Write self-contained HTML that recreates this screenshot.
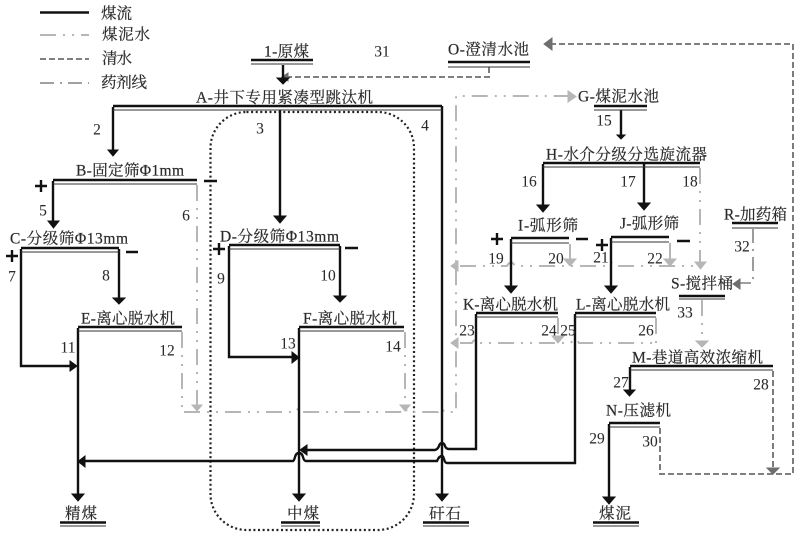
<!DOCTYPE html>
<html><head><meta charset="utf-8">
<style>
html,body{margin:0;padding:0;background:#fff}
svg{display:block;filter:blur(.35px)}
text{font-family:"Liberation Serif","Noto Serif CJK SC",serif;font-size:15.5px;fill:#2a2a2a;stroke:#2a2a2a;stroke-width:.2;dominant-baseline:central}
.n{font-size:15.5px;stroke-width:.05}
.k{fill:none;stroke:#111;stroke-width:2.4}
.t{fill:none;stroke:#333;stroke-width:1.1}
.s{fill:none;stroke:#b6b6b6;stroke-width:2;stroke-dasharray:16 7 2 7 2 7}
.w{fill:none;stroke:#6e6e6e;stroke-width:1.8;stroke-dasharray:6 3}
.d{fill:none;stroke:#929292;stroke-width:1.8;stroke-dasharray:14 6 2 6}
.ha{fill:#111;stroke:#111;stroke-width:1}.hs{fill:#b6b6b6;stroke:#b6b6b6;stroke-width:1}.hw{fill:#6e6e6e;stroke:#6e6e6e;stroke-width:1}
.p{fill:none;stroke:#111;stroke-width:2.4}
</style></head><body>
<svg width="800" height="537" viewBox="0 0 800 537" xmlns="http://www.w3.org/2000/svg">
<!-- legend -->
<path class="k" d="M40 12.5H89"/><path class="s" d="M40 35H89"/><path class="w" d="M40 59H89"/><path class="d" d="M40 83H89"/>
<text x="101" y="14" textLength="31">煤流</text><text x="102" y="35" textLength="48">煤泥水</text><text x="102" y="59" textLength="30">清水</text><text x="101" y="83" textLength="46">药剂线</text>
<!-- dotted box -->
<rect x="210.5" y="112" width="203.5" height="418" rx="36" ry="36" fill="none" stroke="#222" stroke-width="2.2" stroke-dasharray="2 2.6"/>
<!-- grey slime -->
<path class="s" d="M197 185V406"/><path class="s" d="M182 332V412H296q3-7 5-0H402q3-7 5 0H438q3-7 6 0H456V96H568"/>
<path class="s" d="M405 332V406"/>
<path class="s" d="M700 168V263"/><path class="s" d="M570 244V262"/><path class="s" d="M670 243V262"/>
<path class="s" d="M460 266H507q4-7 8 0H607q4-7 8 0H700"/>
<path class="s" d="M558 318V338"/><path class="s" d="M656 318V343"/>
<path class="s" d="M460 343H472q4-7 8 0H571q4-7 8 0H656"/>
<path class="s" d="M702 300V341"/>
<path class="hs" d="M192 405h10l-5 6zM400 405h10l-5 6zM568 91v11l8-5.500zM695 262h11l-5.500 7zM564 259h12l-6 7zM664 259h12l-6 7zM458 261v10l-7-5zM458 338v10l-7-5zM552 336h12l-6 7zM696 341h12l-6 6z"/>
<!-- clear water -->
<path class="w" d="M489 67V77H288"/><path class="w" d="M773 371V468"/><path class="w" d="M660 428V474H793V44H550"/>
<path class="hw" d="M288 73v8l-6-4zM767 468h12l-6 6zM552 38v12l-8-6z"/>
<!-- reagent -->
<path class="d" d="M753 229V283H740"/><path class="hw" d="M740 279v10l-7-5z"/>
<!-- black flows -->
<path class="k" d="M113 107V152"/><path class="k" d="M280 110V218"/>
<path class="k" d="M442 106V495"/><path class="k" d="M283 65V80"/><path class="k" d="M113 106H442"/>
<path class="k" d="M53 181V223"/><path class="k" d="M21 249V366H72"/><path class="k" d="M119 249V299"/>
<path class="k" d="M78 328V495"/><path class="k" d="M229 246V357H294"/><path class="k" d="M340 246V297"/><path class="k" d="M299 328V495"/>
<path class="k" d="M476 314V449H449q-3 0-4-3t-3-3t-3 3t-4 4H307"/>
<path class="k" d="M575 314V463H447q-2 0-3-4t-3-3t-3 3t-1 2H306q-2 0-3-4t-4-4t-4 4t-2 4H85"/>
<path class="k" d="M621 110V136"/><path class="k" d="M543 164V207"/><path class="k" d="M644 164V205"/>
<path class="k" d="M511 239V287"/><path class="k" d="M611 238V287"/><path class="k" d="M630 367V391"/><path class="k" d="M609 424V497"/>
<path class="ha" d="M108 150h10l-5 6zM277 78h12l-6 6zM274 216h12l-6 7zM48 221h11l-5.500 7zM113 298h12l-6 6zM334 296h12l-6 6zM70 361v10l7-5zM292 352v11l7-5.500zM85 456v11l-7-5.500zM307 445v10l-7-5zM72 494h12l-6 7zM293 494h12l-6 7zM436 494h12l-6 7zM617 135h8l-4 4zM537 205h12l-6 7zM638 203h12l-6 7zM505 286h12l-6 7zM605 286h12l-6 7zM624 390h11l-5.500 6zM603 497h12l-6 7z"/>
<!-- double bars -->
<g class="p">
<path d="M251 60H313M448 62H530M53 180H197M21 248H119M78 327H182M229 245H340M299 327H404M594 106H647M543 163H700M511 238H569M611 237H669M732 223H778M476 313H558M575 313H656M679 296H725M630 366H773M609 423H660M60 522.500H106M281 522.500H320M423 522.500H469M593 522.500H639"/>
</g>
<g class="t">
<path d="M251 64H313M448 67H530M113 110H442M53 184H197M21 252H119M78 331H182M229 249H340M299 331H404M594 110H647M543 167H700M511 243H569M611 242H669M732 228H778M476 317H558M575 317H656M679 299H725M630 370H773M609 427H660M60 526H106M281 526H320M423 526H469M593 526H639"/>
</g>
<!-- plus minus -->
<path class="k" d="M35 186H47M41 180V192M6 256H18M12 250V262M213 249H225M219 243V255M491 239H503M497 233V245M596 245H608M602 239V251M204 181H217M126 252H138M345 248H358M576 239H588M677 241H690"/>
<!-- labels -->
<text x="264" y="52" textLength="45">1-原煤</text><text x="448" y="50" textLength="81">O-澄清水池</text>
<text x="196" y="98" textLength="177">A-井下专用紧凑型跳汰机</text>
<text x="76" y="171" textLength="108">B-固定筛Φ1mm</text><text x="10" y="239" textLength="118">C-分级筛Φ13mm</text>
<text x="220" y="237" textLength="119">D-分级筛Φ13mm</text><text x="81" y="319" textLength="94">E-离心脱水机</text>
<text x="303" y="319" textLength="94">F-离心脱水机</text><text x="578" y="97" textLength="81">G-煤泥水池</text>
<text x="546" y="155" textLength="161">H-水介分级分选旋流器</text><text x="518" y="226" textLength="60">I-弧形筛</text>
<text x="620" y="224" textLength="59">J-弧形筛</text><text x="724" y="215" textLength="63">R-加药箱</text>
<text x="463" y="305" textLength="95">K-离心脱水机</text><text x="576" y="305" textLength="94">L-离心脱水机</text>
<text x="671" y="284" textLength="62">S-搅拌桶</text><text x="632" y="358" textLength="131">M-巷道高效浓缩机</text>
<text x="606" y="411" textLength="65">N-压滤机</text>
<text x="65" y="514" textLength="32">精煤</text><text x="287" y="514" textLength="32">中煤</text><text x="429" y="514" textLength="32">矸石</text><text x="599" y="514" textLength="32">煤泥</text>
<g class="n" text-anchor="middle">
<text class="n" x="382" y="52">31</text><text class="n" x="97" y="130">2</text><text class="n" x="260" y="129">3</text><text class="n" x="425" y="126">4</text>
<text class="n" x="43" y="211">5</text><text class="n" x="186" y="216">6</text><text class="n" x="12" y="277">7</text><text class="n" x="106" y="276">8</text>
<text class="n" x="221" y="279">9</text><text class="n" x="328" y="276">10</text><text class="n" x="68" y="348">11</text><text class="n" x="167" y="351">12</text>
<text class="n" x="288" y="344">13</text><text class="n" x="393" y="347">14</text><text class="n" x="604" y="121">15</text><text class="n" x="529" y="182">16</text>
<text class="n" x="628" y="182">17</text><text class="n" x="690" y="182">18</text><text class="n" x="496" y="259">19</text><text class="n" x="556" y="259">20</text>
<text class="n" x="601" y="258">21</text><text class="n" x="655" y="259">22</text><text class="n" x="467" y="331">23</text><text class="n" x="549" y="331">24</text>
<text class="n" x="568" y="331">25</text><text class="n" x="646" y="331">26</text><text class="n" x="621" y="383">27</text><text class="n" x="761" y="385">28</text>
<text class="n" x="597" y="439">29</text><text class="n" x="650" y="442">30</text><text class="n" x="742" y="247">32</text><text class="n" x="685" y="313">33</text>
</g>
</svg>
</body></html>
